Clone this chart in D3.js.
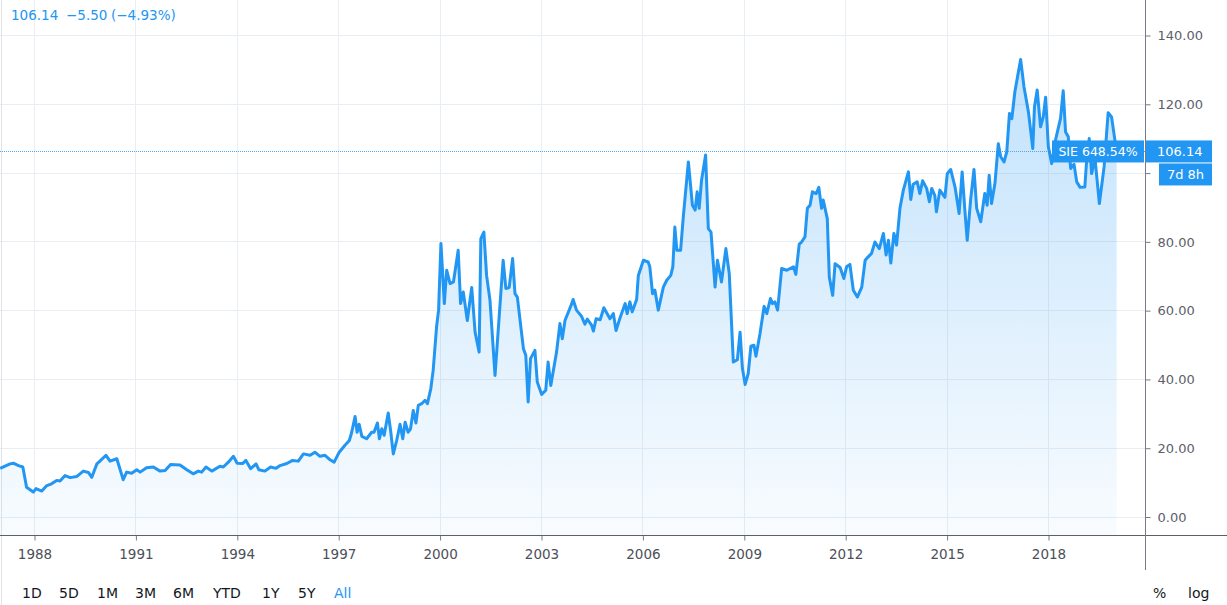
<!DOCTYPE html>
<html>
<head>
<meta charset="utf-8">
<script src="https://cdn.jsdelivr.net/npm/d3@7"></script>
<style>
  body { margin: 0; background: #ffffff; overflow: hidden; }
  text { font-family: "DejaVu Sans", sans-serif; }
</style>
</head>
<body>
<script>
// Data (decimal year, close price)
var dates = [
  1987.00, 1987.29, 1987.39, 1987.54, 1987.67, 1987.78, 1987.98, 1988.06, 1988.23, 1988.38,
  1988.52, 1988.67, 1988.77, 1988.92, 1989.07, 1989.26, 1989.46, 1989.61, 1989.71, 1989.86,
  1989.95, 1990.13, 1990.25, 1990.45, 1990.64, 1990.74, 1990.89, 1991.04, 1991.14, 1991.33,
  1991.53, 1991.73, 1991.88, 1992.04, 1992.32, 1992.52, 1992.71, 1992.86, 1992.96, 1993.09,
  1993.26, 1993.50, 1993.60, 1993.75, 1993.90, 1994.01, 1994.17, 1994.27, 1994.41, 1994.57,
  1994.65, 1994.83, 1995.00, 1995.16, 1995.28, 1995.48, 1995.65, 1995.82, 1995.97, 1996.17,
  1996.31, 1996.46, 1996.61, 1996.76, 1996.88, 1997.03, 1997.20, 1997.33, 1997.40, 1997.50,
  1997.56, 1997.62, 1997.70, 1997.84, 1997.99, 1998.06, 1998.16, 1998.22, 1998.29, 1998.36,
  1998.48, 1998.55, 1998.63, 1998.73, 1998.83, 1998.91, 1998.98, 1999.07, 1999.14, 1999.22,
  1999.30, 1999.37, 1999.47, 1999.57, 1999.64, 1999.74, 1999.81, 1999.91, 1999.97, 2000.04,
  2000.14, 2000.21, 2000.31, 2000.41, 2000.55, 2000.62, 2000.70, 2000.82, 2000.95, 2001.05,
  2001.17, 2001.22, 2001.31, 2001.39, 2001.49, 2001.64, 2001.88, 2001.96, 2002.06, 2002.16,
  2002.23, 2002.30, 2002.48, 2002.55, 2002.62, 2002.69, 2002.82, 2002.89, 2003.02, 2003.14,
  2003.21, 2003.29, 2003.46, 2003.56, 2003.63, 2003.71, 2003.91, 2003.95, 2004.05, 2004.20,
  2004.30, 2004.37, 2004.50, 2004.55, 2004.63, 2004.75, 2004.86, 2005.04, 2005.14, 2005.22,
  2005.34, 2005.49, 2005.55, 2005.63, 2005.70, 2005.83, 2005.88, 2006.03, 2006.17, 2006.22,
  2006.30, 2006.37, 2006.47, 2006.62, 2006.72, 2006.84, 2006.90, 2006.96, 2007.02, 2007.13,
  2007.21, 2007.36, 2007.48, 2007.56, 2007.62, 2007.68, 2007.75, 2007.87, 2007.95, 2008.03,
  2008.15, 2008.22, 2008.34, 2008.47, 2008.57, 2008.69, 2008.81, 2008.89, 2008.96, 2009.04,
  2009.13, 2009.21, 2009.30, 2009.36, 2009.48, 2009.60, 2009.68, 2009.79, 2009.85, 2009.92,
  2010.00, 2010.12, 2010.27, 2010.47, 2010.54, 2010.64, 2010.71, 2010.81, 2010.88, 2010.96,
  2011.03, 2011.14, 2011.22, 2011.30, 2011.35, 2011.47, 2011.53, 2011.63, 2011.70, 2011.85,
  2011.96, 2012.04, 2012.14, 2012.24, 2012.36, 2012.49, 2012.59, 2012.68, 2012.78, 2012.88,
  2013.01, 2013.13, 2013.21, 2013.28, 2013.35, 2013.44, 2013.52, 2013.62, 2013.72, 2013.87,
  2013.94, 2014.01, 2014.13, 2014.21, 2014.29, 2014.41, 2014.49, 2014.56, 2014.65, 2014.70,
  2014.80, 2014.95, 2015.02, 2015.12, 2015.25, 2015.37, 2015.46, 2015.54, 2015.61, 2015.71,
  2015.81, 2015.89, 2016.01, 2016.13, 2016.20, 2016.26, 2016.33, 2016.43, 2016.53, 2016.60,
  2016.70, 2016.78, 2016.86, 2016.93, 2017.02, 2017.19, 2017.29, 2017.42, 2017.55, 2017.60,
  2017.68, 2017.78, 2017.86, 2017.93, 2018.01, 2018.11, 2018.21, 2018.30, 2018.37, 2018.45,
  2018.52, 2018.60, 2018.67, 2018.77, 2018.85, 2018.95, 2019.09, 2019.14, 2019.22, 2019.29,
  2019.39, 2019.52, 2019.66, 2019.78, 2019.88, 2019.98, 2020.03
];
var prices = [
  14.0, 15.3, 15.5, 14.8, 14.4, 8.5, 7.1, 8.1, 7.4, 9.0,
  9.5, 10.5, 10.3, 11.9, 11.3, 11.6, 13.2, 12.8, 11.4, 15.3,
  16.1, 17.8, 16.1, 16.8, 10.7, 12.9, 12.6, 13.6, 12.9, 14.2,
  14.4, 13.2, 13.4, 15.1, 15.0, 13.6, 12.4, 13.2, 12.9, 14.4,
  13.2, 14.6, 14.4, 15.8, 17.5, 15.5, 15.4, 16.3, 13.9, 15.3,
  13.6, 13.2, 14.4, 14.0, 14.8, 15.4, 16.3, 16.1, 18.2, 17.8,
  18.7, 17.5, 17.8, 16.5, 15.8, 18.7, 20.7, 22.1, 24.5, 29.1,
  24.5, 26.8, 23.3, 22.6, 24.5, 24.5, 27.2, 22.6, 25.5, 23.6,
  30.1, 25.0, 18.2, 22.1, 26.8, 22.6, 27.4, 24.5, 25.5, 30.8,
  27.2, 32.3, 32.8, 33.8, 32.8, 37.2, 42.5, 55.1, 60.0, 79.4,
  61.9, 71.6, 67.7, 68.2, 77.4, 61.9, 65.3, 57.0, 66.6, 53.6,
  47.8, 80.8, 82.7, 70.1, 62.9, 41.0, 74.5, 66.3, 66.6, 75.0,
  64.8, 63.8, 48.8, 46.9, 33.3, 45.9, 48.3, 39.1, 35.5, 36.7,
  44.9, 38.1, 47.8, 56.1, 51.7, 57.0, 61.9, 63.1, 60.0, 58.2,
  55.9, 57.4, 55.6, 53.9, 57.5, 57.2, 60.7, 57.5, 59.0, 54.1,
  57.8, 61.9, 59.0, 62.4, 59.5, 63.1, 70.1, 74.5, 74.0, 72.6,
  64.8, 65.8, 60.0, 66.7, 68.7, 70.1, 72.6, 84.2, 77.4, 77.4,
  87.1, 103.1, 90.5, 89.1, 94.4, 89.6, 97.8, 105.1, 83.7, 82.7,
  66.7, 74.5, 68.2, 77.9, 70.6, 44.9, 45.6, 53.6, 43.0, 38.4,
  41.5, 49.5, 49.8, 46.6, 53.2, 61.1, 59.0, 63.4, 61.9, 62.4,
  60.0, 72.1, 71.6, 72.6, 70.4, 79.2, 79.8, 81.3, 89.6, 90.5,
  94.4, 93.9, 95.7, 89.6, 92.0, 86.6, 69.6, 64.3, 73.5, 72.4,
  69.2, 72.6, 73.3, 65.8, 63.8, 66.7, 74.5, 75.5, 76.5, 79.8,
  77.9, 82.3, 76.0, 80.3, 73.7, 82.3, 78.9, 89.6, 94.9, 100.2,
  92.2, 96.6, 97.3, 93.9, 97.6, 95.4, 91.5, 95.4, 93.4, 88.6,
  94.9, 92.8, 99.7, 100.9, 95.8, 88.1, 100.2, 89.1, 80.3, 92.0,
  100.9, 89.6, 85.7, 93.9, 90.5, 99.2, 91.0, 96.8, 108.4, 104.6,
  103.1, 106.0, 117.2, 115.7, 123.5, 132.9, 124.9, 117.7, 107.0, 119.1,
  124.0, 113.3, 116.2, 121.9, 107.5, 102.6, 108.9, 112.8, 115.7, 123.8,
  111.8, 110.4, 101.2, 102.4, 97.3, 95.7, 95.8, 103.1, 109.9, 99.7,
  104.1, 91.0, 101.7, 117.4, 116.2, 109.4, 106.14
];

var xTickYears = [1988, 1991, 1994, 1997, 2000, 2003, 2006, 2009, 2012, 2015, 2018];
var yTicks = [0, 20, 40, 60, 80, 100, 120, 140];
var lastPrice = 106.14;
var headerParts = ["106.14", "\u22125.50", "(\u22124.93%)"];
var symbolLabel = "SIE 648.54%";
var countdownLabel = "7d 8h";
var rangeButtons = ["1D", "5D", "1M", "3M", "6M", "YTD", "1Y", "5Y", "All"];

// Layout
var svgWidth = 1227;
var svgHeight = 605;
var axisX = 1145.5;   // right price scale line
var axisY = 535.5;    // time scale line
var blue = "#2196f3";

var svg = d3.select("body")
            .append("svg")
            .attr("width", svgWidth)
            .attr("height", svgHeight);

var data = dates.map(function(d, i) { return { t: d, v: prices[i] }; });

// Scales
var xScale = d3.scaleLinear().domain([1988, 2018]).range([34, 1048]);
var yScale = d3.scaleLinear().domain([0, 140]).range([516.5, 35]);
var priceY = yScale(lastPrice);

// Gradient for the area
var grad = svg.append("defs").append("linearGradient")
              .attr("id", "areaFill")
              .attr("gradientUnits", "userSpaceOnUse")
              .attr("x1", 0).attr("y1", yScale(135))
              .attr("x2", 0).attr("y2", axisY);
grad.append("stop").attr("offset", "0%").attr("stop-color", blue).attr("stop-opacity", 0.28);
grad.append("stop").attr("offset", "100%").attr("stop-color", blue).attr("stop-opacity", 0.03);

// Grid lines
var grid = svg.append("g");
grid.selectAll(".vgrid")
    .data(xTickYears)
    .enter().append("line")
    .attr("x1", function(d) { return Math.round(xScale(d)) + 0.5; })
    .attr("x2", function(d) { return Math.round(xScale(d)) + 0.5; })
    .attr("y1", 0).attr("y2", axisY)
    .attr("stroke", "#e9eef4");
grid.selectAll(".hgrid")
    .data(yTicks)
    .enter().append("line")
    .attr("x1", 0).attr("x2", axisX)
    .attr("y1", function(d) { return Math.round(yScale(d)) + 0.5; })
    .attr("y2", function(d) { return Math.round(yScale(d)) + 0.5; })
    .attr("stroke", "#e9eef4");

// left border
svg.append("line")
   .attr("x1", 1.5).attr("x2", 1.5).attr("y1", 0).attr("y2", svgHeight)
   .attr("stroke", "#e0e3eb");

// Area + line
var area = d3.area()
             .x(function(d) { return xScale(d.t); })
             .y0(axisY)
             .y1(function(d) { return yScale(d.v); });
var line = d3.line()
             .x(function(d) { return xScale(d.t); })
             .y(function(d) { return yScale(d.v); });

svg.append("path").datum(data)
   .attr("d", area)
   .attr("fill", "url(#areaFill)");

// Last price dotted line
svg.append("line")
   .attr("x1", 0).attr("x2", axisX)
   .attr("y1", Math.round(priceY) + 0.5)
   .attr("y2", Math.round(priceY) + 0.5)
   .attr("stroke", "#4aa8f5")
   .attr("stroke-width", 1)
   .attr("stroke-dasharray", "1,1");

svg.append("path").datum(data)
   .attr("d", line)
   .attr("fill", "none")
   .attr("stroke", blue)
   .attr("stroke-width", 3)
   .attr("stroke-linejoin", "round");

// Axes
var rightAxis = d3.axisRight(yScale)
                  .tickValues(yTicks)
                  .tickFormat(d3.format(".2f"))
                  .tickSize(5)
                  .tickPadding(7);
var yAxisG = svg.append("g")
                .attr("transform", "translate(" + axisX + ",0.5)")
                .call(rightAxis);
yAxisG.select(".domain").remove();
yAxisG.selectAll("line").attr("stroke", "#787b86");
yAxisG.selectAll("text")
      .attr("fill", "#5d606b")
      .style("font-size", "13px");
// the label next to the last price badge is hidden by it
yAxisG.selectAll(".tick")
      .filter(function(d) { return Math.abs(yScale(d) - priceY) < 28; })
      .select("text").remove();

var bottomAxis = d3.axisBottom(xScale)
                   .tickValues(xTickYears)
                   .tickFormat(d3.format("d"))
                   .tickSize(5)
                   .tickPadding(9);
var xAxisG = svg.append("g")
                .attr("transform", "translate(0.5," + axisY + ")")
                .call(bottomAxis);
xAxisG.select(".domain").remove();
xAxisG.selectAll("line").attr("stroke", "#787b86");
xAxisG.selectAll("text")
      .attr("fill", "#4c4f59")
      .style("font-size", "13.5px");

// axis lines
svg.append("line")
   .attr("x1", 0).attr("x2", svgWidth).attr("y1", axisY).attr("y2", axisY)
   .attr("stroke", "#5d606b");
svg.append("line")
   .attr("x1", axisX).attr("x2", axisX).attr("y1", 0).attr("y2", 570)
   .attr("stroke", "#787b86");

// Badges on the price scale
svg.append("rect")
   .attr("x", 1052).attr("y", priceY - 11).attr("width", 92).attr("height", 22)
   .attr("fill", blue);
svg.append("text")
   .attr("x", 1098).attr("y", priceY + 5)
   .attr("text-anchor", "middle")
   .attr("fill", "#ffffff")
   .style("font-size", "12.5px")
   .text(symbolLabel);
svg.append("rect")
   .attr("x", 1146).attr("y", priceY - 11).attr("width", 66).attr("height", 22)
   .attr("fill", blue);
svg.append("text")
   .attr("x", 1157).attr("y", priceY + 5)
   .attr("fill", "#ffffff")
   .style("font-size", "13px")
   .text(d3.format(".2f")(lastPrice));
svg.append("rect")
   .attr("x", 1159).attr("y", priceY + 12).attr("width", 53).attr("height", 22)
   .attr("fill", blue);
svg.append("text")
   .attr("x", 1185.5).attr("y", priceY + 28)
   .attr("text-anchor", "middle")
   .attr("fill", "#ffffff")
   .style("font-size", "13px")
   .text(countdownLabel);

// Header text
var headerX = [11, 66, 111];
svg.append("g").selectAll("text")
   .data(headerParts)
   .enter().append("text")
   .attr("x", function(d, i) { return headerX[i]; })
   .attr("y", 20)
   .attr("fill", blue)
   .style("font-size", "13.5px")
   .text(function(d) { return d; });

// Range buttons
var buttonX = [22, 59, 97, 135, 173, 213, 262, 298, 334];
svg.append("g").selectAll("text")
   .data(rangeButtons)
   .enter().append("text")
   .attr("x", function(d, i) { return buttonX[i]; })
   .attr("y", 598)
   .attr("fill", function(d) { return d === "All" ? blue : "#131722"; })
   .style("font-size", "14px")
   .text(function(d) { return d; });

svg.append("text").attr("x", 1153).attr("y", 598)
   .attr("fill", "#131722").style("font-size", "14px").text("%");
svg.append("text").attr("x", 1188).attr("y", 598)
   .attr("fill", "#131722").style("font-size", "14px").text("log");
</script>
</body>
</html>
